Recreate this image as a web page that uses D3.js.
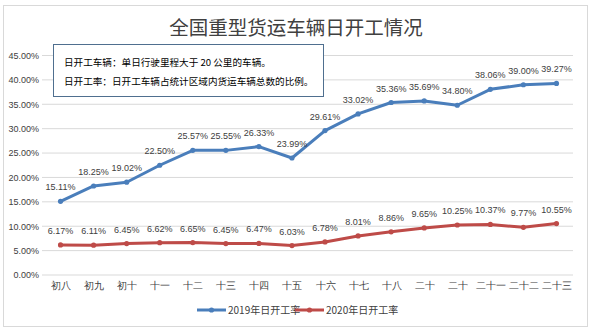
<!DOCTYPE html>
<html><head><meta charset="utf-8">
<script src="https://cdn.jsdelivr.net/npm/d3@7"></script>
<style>body{margin:0;background:#fff;}svg{display:block;font-family:"Microsoft YaHei","Noto Sans CJK SC",sans-serif;}</style>
</head><body><svg id="c" width="591" height="330"></svg>
<script>
const categories = ["初八","初九","初十","十一","十二","十三","十四","十五","十六","十七","十八","二十","二十","二十一","二十二","二十三"];
const series2019 = [15.11,18.25,19.02,22.50,25.57,25.55,26.33,23.99,29.61,33.02,35.36,35.69,34.80,38.06,39.00,39.27];
const series2020 = [6.17,6.11,6.45,6.62,6.65,6.45,6.47,6.03,6.78,8.01,8.86,9.65,10.25,10.37,9.77,10.55];
const yTicks = [0,5,10,15,20,25,30,35,40,45];
const seriesNames = ["2019年日开工率","2020年日开工率"];
const colors = ["#4A7EBB","#BE4B48"];
const title = "全国重型货运车辆日开工情况";
const notes = ["日开工车辆：单日行驶里程大于 20 公里的车辆。","日开工率：日开工车辆占统计区域内货运车辆总数的比例。"];

const svg = d3.select("#c");
svg.append("rect").attr("x",3.5).attr("y",5.5).attr("width",584).attr("height",321)
  .attr("fill","#fff").attr("stroke","#d9d9d9");

const x = d3.scalePoint().domain(d3.range(categories.length)).range([44,573]).padding(0.5);
const y = d3.scaleLinear().domain([0,45]).range([275,55.5]);

// grid
svg.append("g").selectAll("line").data(yTicks).join("line")
  .attr("x1",42).attr("x2",573).attr("y1",d=>y(d)).attr("y2",d=>y(d))
  .attr("stroke","#d9d9d9").attr("stroke-width",1);

// y axis
const yAxis = d3.axisLeft(y).tickValues(yTicks).tickSize(0).tickPadding(0).tickFormat(d=>d.toFixed(2)+"%");
const gy = svg.append("g").attr("transform","translate(39,0)").call(yAxis);
gy.select(".domain").remove();
gy.selectAll("text").attr("font-size",9).attr("fill","#404040").attr("font-family","Liberation Sans, Arial, sans-serif");

// x axis
const xAxis = d3.axisBottom(x).tickSize(0).tickPadding(0).tickFormat(i=>categories[i]);
const gx = svg.append("g").attr("transform","translate(0,282)").call(xAxis);
gx.select(".domain").remove();
gx.selectAll("text").attr("font-size",9.5).attr("fill","#404040");

// title
svg.append("text").attr("x",296).attr("y",35).attr("text-anchor","middle")
  .attr("font-size",19.5).attr("fill","#404040").text(title);

// lines
const all = [series2019, series2020];
const line = d3.line().x((d,i)=>x(i)).y(d=>y(d));
all.forEach((s,k)=>{
  svg.append("path").datum(s).attr("d",line).attr("fill","none")
    .attr("stroke",colors[k]).attr("stroke-width",3).attr("stroke-linejoin","round");
  svg.append("g").selectAll("circle").data(s).join("circle")
    .attr("cx",(d,i)=>x(i)).attr("cy",d=>y(d)).attr("r",2.6).attr("fill",colors[k]);
  svg.append("g").selectAll("text").data(s).join("text")
    .attr("x",(d,i)=>x(i)).attr("y",d=>y(d)-11).attr("text-anchor","middle")
    .attr("font-size",9).attr("fill","#404040").attr("font-family","Liberation Sans, Arial, sans-serif")
    .text(d=>d.toFixed(2)+"%");
});

// annotation box
svg.append("rect").attr("x",53.5).attr("y",44.5).attr("width",270).attr("height",52)
  .attr("fill","#fff").attr("stroke","#4F6F8F").attr("stroke-width",1);
notes.forEach((t,i)=>{
  svg.append("text").attr("x",64).attr("y",66+i*18.5).attr("font-size",9.6).attr("fill","#000").text(t);
});

// legend
const lx = [197,295];
seriesNames.forEach((n,k)=>{
  const g = svg.append("g");
  g.append("line").attr("x1",lx[k]).attr("x2",lx[k]+29).attr("y1",310).attr("y2",310)
    .attr("stroke",colors[k]).attr("stroke-width",3);
  g.append("circle").attr("cx",lx[k]+14.5).attr("cy",310).attr("r",2.6).attr("fill",colors[k]);
  g.append("text").attr("x",lx[k]+31).attr("y",314).attr("font-size",10).attr("fill","#404040").text(n);
});
</script></body></html>
